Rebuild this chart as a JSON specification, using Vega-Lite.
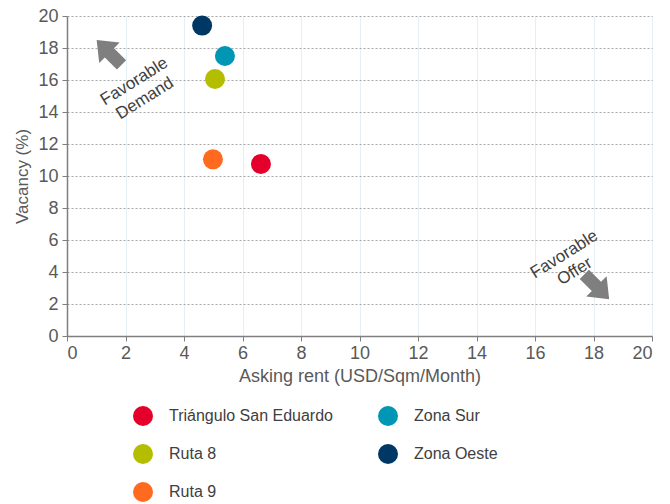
{
  "$schema": "https://vega.github.io/schema/vega-lite/v6.json",
  "width": 585,
  "height": 320,
  "autosize": {"type": "none"},
  "padding": {"left": 67, "top": 16, "right": 18, "bottom": 168},
  "background": "white",
  "config": {
    "font": "Liberation Sans",
    "view": {"stroke": null}
  },
  "datasets": {
    "pts": [
      {"submarket": "Triángulo San Eduardo", "rent": 6.63, "vacancy": 10.75},
      {"submarket": "Ruta 8", "rent": 5.06, "vacancy": 16.06},
      {"submarket": "Ruta 9", "rent": 4.99, "vacancy": 11.04},
      {"submarket": "Zona Sur", "rent": 5.4, "vacancy": 17.5},
      {"submarket": "Zona Oeste", "rent": 4.62, "vacancy": 19.4}
    ],
    "notes": [
      {"label": ["Favorable", "Demand"], "rent": 2.3, "vacancy": 15.9},
      {"label": ["Favorable", "Offer"], "rent": 17.0, "vacancy": 5.1}
    ],
    "arrows": [
      {"rent": 1.45, "vacancy": 17.7, "dir": 225},
      {"rent": 18.1, "vacancy": 3.1, "dir": 45}
    ]
  },
  "encoding": {
    "x": {
      "field": "rent", "type": "quantitative",
      "scale": {"domain": [0, 20], "nice": false, "zero": true},
      "axis": {
        "title": "Asking rent (USD/Sqm/Month)",
        "values": [0, 2, 4, 6, 8, 10, 12, 14, 16, 18, 20],
        "labelOverlap": false,
        "grid": true, "gridColor": "#E3F0F5", "gridWidth": 1,
        "domainColor": "#7F7F7F", "domainWidth": 1.5,
        "tickColor": "#7F7F7F", "tickSize": 5, "tickWidth": 1,
        "labelFont": "Liberation Sans", "labelFontSize": 18, "labelColor": "#595959",
        "labelPadding": 3,
        "titleFont": "Liberation Sans", "titleFontSize": 18, "titleColor": "#595959",
        "titleFontWeight": "normal", "titlePadding": 5
      }
    },
    "y": {
      "field": "vacancy", "type": "quantitative",
      "scale": {"domain": [0, 20], "nice": false},
      "axis": {
        "title": "Vacancy (%)",
        "values": [0, 2, 4, 6, 8, 10, 12, 14, 16, 18, 20],
        "tickCount": 11,
        "labelOverlap": false,
        "grid": true, "gridColor": "#A6A6A6", "gridDash": [2, 2], "gridWidth": 1,
        "domainColor": "#7F7F7F", "domainWidth": 1.5,
        "tickColor": "#7F7F7F", "tickSize": 5, "tickWidth": 1,
        "labelFont": "Liberation Sans", "labelFontSize": 18, "labelColor": "#595959",
        "labelPadding": 4,
        "titleFont": "Liberation Sans", "titleFontSize": 17, "titleColor": "#595959",
        "titleFontWeight": "normal", "titlePadding": 6
      }
    }
  },
  "layer": [
    {
      "data": {"name": "pts"},
      "mark": {"type": "point", "filled": true, "opacity": 1, "size": 400, "shape": "circle"},
      "encoding": {
        "color": {
          "field": "submarket", "type": "nominal",
          "scale": {
            "domain": ["Triángulo San Eduardo", "Ruta 8", "Ruta 9", "Zona Sur", "Zona Oeste"],
            "range": ["#E4002B", "#B5BD00", "#FF6A1F", "#0096B4", "#003865"]
          },
          "legend": {
            "title": null,
            "orient": "none",
            "legendX": 66,
            "legendY": 390,
            "columns": 2,
            "columnPadding": 45,
            "rowPadding": 18,
            "symbolType": "circle",
            "symbolSize": 400,
            "symbolOpacity": 1,
            "symbolStrokeWidth": 0,
            "labelFont": "Liberation Sans",
            "labelFontSize": 16,
            "labelLimit": 400,
            "labelColor": "#404040",
            "labelOffset": 16
          }
        }
      }
    },
    {
      "data": {"name": "arrows"},
      "mark": {
        "type": "point", "filled": true, "color": "#7F7F7F", "opacity": 1, "size": 1300,
        "shape": "M-0.95,-0.36 L0,-0.36 L0,-0.8 L1,0 L0,0.8 L0,0.36 L-0.95,0.36 Z"
      },
      "encoding": {
        "angle": {"field": "dir", "type": "quantitative", "scale": null}
      }
    },
    {
      "data": {"name": "notes"},
      "mark": {
        "type": "text", "angle": -32, "font": "Liberation Sans", "fontSize": 17,
        "color": "#404040", "align": "center", "baseline": "middle", "lineHeight": 20
      },
      "encoding": {
        "text": {"field": "label"}
      }
    }
  ]
}
